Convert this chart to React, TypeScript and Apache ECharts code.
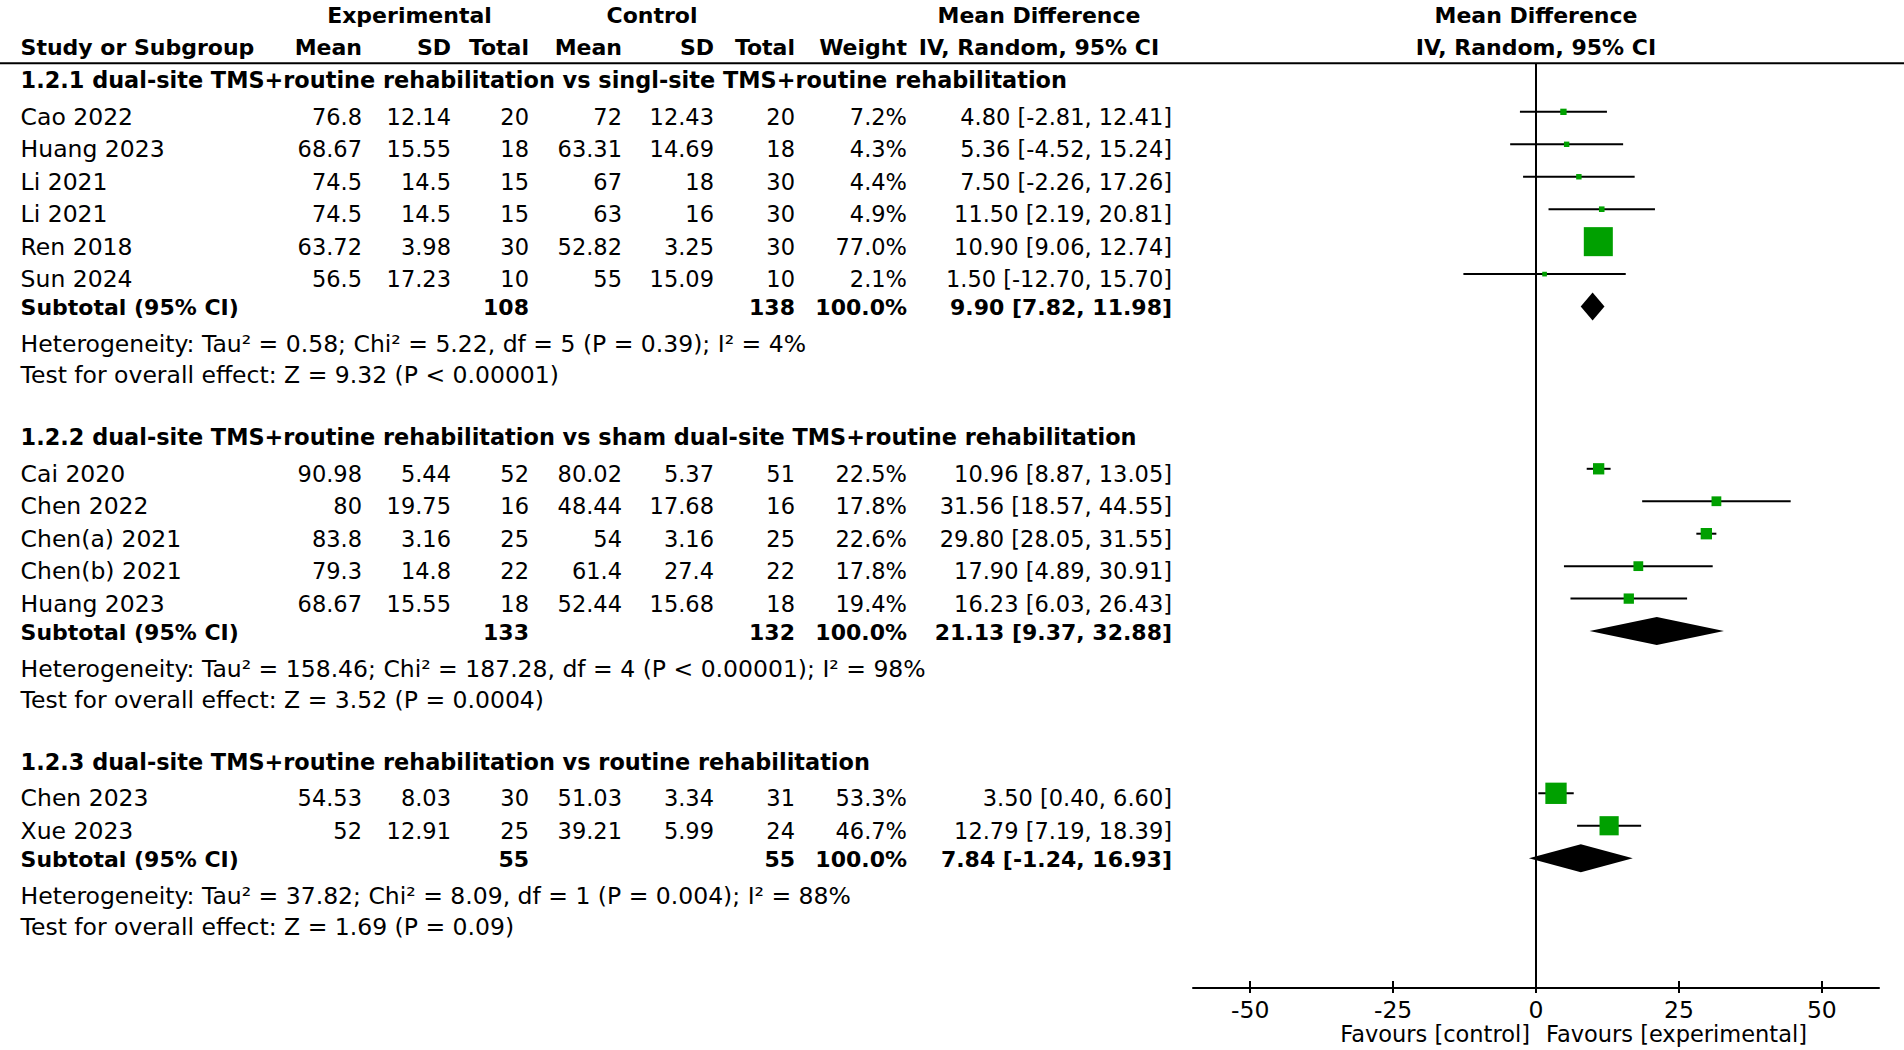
import React, { useEffect, useRef } from "react";
import * as echarts from "echarts";

// ---------- data ----------
const G1_TITLE = "1.2.1 dual-site TMS+routine rehabilitation vs singl-site TMS+routine rehabilitation";
const G1_STUDIES = ["Cao 2022", "Huang 2023", "Li 2021", "Li 2021", "Ren 2018", "Sun 2024"];
const G1_EXP_MEAN = [76.8, 68.67, 74.5, 74.5, 63.72, 56.5];
const G1_EXP_SD = [12.14, 15.55, 14.5, 14.5, 3.98, 17.23];
const G1_EXP_N = [20, 18, 15, 15, 30, 10];
const G1_CTL_MEAN = [72, 63.31, 67, 63, 52.82, 55];
const G1_CTL_SD = [12.43, 14.69, 18, 16, 3.25, 15.09];
const G1_CTL_N = [20, 18, 30, 30, 30, 10];
const G1_WEIGHT = [7.2, 4.3, 4.4, 4.9, 77.0, 2.1];
const G1_MD = [4.8, 5.36, 7.5, 11.5, 10.9, 1.5];
const G1_LO = [-2.81, -4.52, -2.26, 2.19, 9.06, -12.7];
const G1_HI = [12.41, 15.24, 17.26, 20.81, 12.74, 15.7];
const G1_SUB = [108, 138, 9.9, 7.82, 11.98]; // expTotal, ctlTotal, md, lo, hi
const G1_HET = "Heterogeneity: Tau² = 0.58; Chi² = 5.22, df = 5 (P = 0.39); I² = 4%";
const G1_TEST = "Test for overall effect: Z = 9.32 (P < 0.00001)";

const G2_TITLE = "1.2.2 dual-site TMS+routine rehabilitation vs sham dual-site TMS+routine rehabilitation";
const G2_STUDIES = ["Cai 2020", "Chen 2022", "Chen(a) 2021", "Chen(b) 2021", "Huang 2023"];
const G2_EXP_MEAN = [90.98, 80, 83.8, 79.3, 68.67];
const G2_EXP_SD = [5.44, 19.75, 3.16, 14.8, 15.55];
const G2_EXP_N = [52, 16, 25, 22, 18];
const G2_CTL_MEAN = [80.02, 48.44, 54, 61.4, 52.44];
const G2_CTL_SD = [5.37, 17.68, 3.16, 27.4, 15.68];
const G2_CTL_N = [51, 16, 25, 22, 18];
const G2_WEIGHT = [22.5, 17.8, 22.6, 17.8, 19.4];
const G2_MD = [10.96, 31.56, 29.8, 17.9, 16.23];
const G2_LO = [8.87, 18.57, 28.05, 4.89, 6.03];
const G2_HI = [13.05, 44.55, 31.55, 30.91, 26.43];
const G2_SUB = [133, 132, 21.13, 9.37, 32.88];
const G2_HET = "Heterogeneity: Tau² = 158.46; Chi² = 187.28, df = 4 (P < 0.00001); I² = 98%";
const G2_TEST = "Test for overall effect: Z = 3.52 (P = 0.0004)";

const G3_TITLE = "1.2.3 dual-site TMS+routine rehabilitation vs routine rehabilitation";
const G3_STUDIES = ["Chen 2023", "Xue 2023"];
const G3_EXP_MEAN = [54.53, 52];
const G3_EXP_SD = [8.03, 12.91];
const G3_EXP_N = [30, 25];
const G3_CTL_MEAN = [51.03, 39.21];
const G3_CTL_SD = [3.34, 5.99];
const G3_CTL_N = [31, 24];
const G3_WEIGHT = [53.3, 46.7];
const G3_MD = [3.5, 12.79];
const G3_LO = [0.4, 7.19];
const G3_HI = [6.6, 18.39];
const G3_SUB = [55, 55, 7.84, -1.24, 16.93];
const G3_HET = "Heterogeneity: Tau² = 37.82; Chi² = 8.09, df = 1 (P = 0.004); I² = 88%";
const G3_TEST = "Test for overall effect: Z = 1.69 (P = 0.09)";

const X_TICKS = [-50, -25, 0, 25, 50];
const X_MIN = -60;
const X_MAX = 60;
const LEFT_LABEL = "Favours [control]";
const RIGHT_LABEL = "Favours [experimental]";

// ---------- layout ----------
const FONT = '"DejaVu Sans", Verdana, sans-serif';
const FS_TXT = 23.5; // left-aligned regular labels
const FS_NUM = 22.5; // numeric columns
const FS_BOLD = 22;
const GREEN = "#00a000";
const Y_MIN = -2;
const Y_MAX = 28;
const GRID_TOP = 14.5;
const GRID_H = 973.5;
const PITCH = GRID_H / (Y_MAX - Y_MIN);
const rowY = (k: number) => GRID_TOP + (k - Y_MIN) * PITCH;

const COL = {
  name: 20.6,
  expMean: 362,
  expSD: 451,
  expN: 529,
  ctlMean: 622,
  ctlSD: 714,
  ctlN: 795,
  weight: 907,
  ci: 1172,
  ciCenter: 1039,
  plotCenter: 1536,
  expCenter: 409.5,
  ctlCenter: 652,
};

const fmt2 = (v: number) => v.toFixed(2);
const ciText = (m: number, l: number, h: number) => `${fmt2(m)} [${fmt2(l)}, ${fmt2(h)}]`;

function buildGroups() {
  return [
    { title: G1_TITLE, studies: G1_STUDIES, em: G1_EXP_MEAN, es: G1_EXP_SD, en: G1_EXP_N, cm: G1_CTL_MEAN, cs: G1_CTL_SD, cn: G1_CTL_N, w: G1_WEIGHT, md: G1_MD, lo: G1_LO, hi: G1_HI, sub: G1_SUB, het: G1_HET, test: G1_TEST },
    { title: G2_TITLE, studies: G2_STUDIES, em: G2_EXP_MEAN, es: G2_EXP_SD, en: G2_EXP_N, cm: G2_CTL_MEAN, cs: G2_CTL_SD, cn: G2_CTL_N, w: G2_WEIGHT, md: G2_MD, lo: G2_LO, hi: G2_HI, sub: G2_SUB, het: G2_HET, test: G2_TEST },
    { title: G3_TITLE, studies: G3_STUDIES, em: G3_EXP_MEAN, es: G3_EXP_SD, en: G3_EXP_N, cm: G3_CTL_MEAN, cs: G3_CTL_SD, cn: G3_CTL_N, w: G3_WEIGHT, md: G3_MD, lo: G3_LO, hi: G3_HI, sub: G3_SUB, het: G3_HET, test: G3_TEST },
  ];
}

function txt(text: string, x: number, y: number, align: string, bold = false, size?: number) {
  const fs = size ?? (bold ? FS_BOLD : FS_NUM);
  return {
    type: "text",
    silent: true,
    style: {
      text,
      x,
      y,
      font: `${bold ? "bold " : ""}${fs}px ${FONT}`,
      fill: "#000",
      align,
      verticalAlign: "middle",
      textAlign: align,
      textVerticalAlign: "middle",
    },
  };
}

export default function App() {
  const ref = useRef<HTMLDivElement>(null);

  useEffect(() => {
    if (!ref.current) return;
    const chart = echarts.init(ref.current, undefined, { renderer: "svg" });
    const groups = buildGroups();

    const texts: any[] = [];
    const ciData: any[] = [];
    const sqData: any[] = [];
    const dmData: any[] = [];

    // headers
    const h1 = rowY(-2) + 1;
    const h2 = rowY(-1) + 1;
    texts.push(txt("Experimental", COL.expCenter, h1, "center", true));
    texts.push(txt("Control", COL.ctlCenter, h1, "center", true));
    texts.push(txt("Mean Difference", COL.ciCenter, h1, "center", true));
    texts.push(txt("Mean Difference", COL.plotCenter, h1, "center", true));
    texts.push(txt("Study or Subgroup", COL.name, h2, "left", true));
    texts.push(txt("Mean", COL.expMean, h2, "right", true));
    texts.push(txt("SD", COL.expSD, h2, "right", true));
    texts.push(txt("Total", COL.expN, h2, "right", true));
    texts.push(txt("Mean", COL.ctlMean, h2, "right", true));
    texts.push(txt("SD", COL.ctlSD, h2, "right", true));
    texts.push(txt("Total", COL.ctlN, h2, "right", true));
    texts.push(txt("Weight", COL.weight, h2, "right", true));
    texts.push(txt("IV, Random, 95% CI", COL.ciCenter, h2, "center", true));
    texts.push(txt("IV, Random, 95% CI", COL.plotCenter, h2, "center", true));
    texts.push({
      type: "line",
      silent: true,
      shape: { x1: 0, y1: rowY(-0.5), x2: 1904, y2: rowY(-0.5) },
      style: { stroke: "#000", lineWidth: 2 },
    });

    let k = 0;
    groups.forEach((g) => {
      texts.push(txt(g.title, COL.name, rowY(k) + 1, "left", true, 22.4));
      k++;
      g.studies.forEach((s, i) => {
        const y = rowY(k) + 5;
        texts.push(txt(s, COL.name, y, "left", false, FS_TXT));
        texts.push(txt(String(g.em[i]), COL.expMean, y, "right"));
        texts.push(txt(String(g.es[i]), COL.expSD, y, "right"));
        texts.push(txt(String(g.en[i]), COL.expN, y, "right"));
        texts.push(txt(String(g.cm[i]), COL.ctlMean, y, "right"));
        texts.push(txt(String(g.cs[i]), COL.ctlSD, y, "right"));
        texts.push(txt(String(g.cn[i]), COL.ctlN, y, "right"));
        texts.push(txt(`${g.w[i].toFixed(1)}%`, COL.weight, y, "right"));
        texts.push(txt(ciText(g.md[i], g.lo[i], g.hi[i]), COL.ci, y, "right"));
        ciData.push([g.lo[i], g.hi[i], k]);
        sqData.push([g.md[i], k, g.w[i]]);
        k++;
      });
      const ys = rowY(k) + 1;
      texts.push(txt("Subtotal (95% CI)", COL.name, ys, "left", true));
      texts.push(txt(String(g.sub[0]), COL.expN, ys, "right", true));
      texts.push(txt(String(g.sub[1]), COL.ctlN, ys, "right", true));
      texts.push(txt("100.0%", COL.weight, ys, "right", true));
      texts.push(txt(ciText(g.sub[2], g.sub[3], g.sub[4]), COL.ci, ys, "right", true));
      dmData.push([g.sub[3], g.sub[2], g.sub[4], k]);
      k++;
      texts.push(txt(g.het, COL.name, rowY(k) + 5, "left", false, FS_TXT));
      k++;
      texts.push(txt(g.test, COL.name, rowY(k) + 4, "left", false, FS_TXT));
      k++;
      k++; // blank row
    });

    texts.push(txt(LEFT_LABEL, 1530, 1034, "right", false, 22.5));
    texts.push(txt(RIGHT_LABEL, 1546, 1034, "left", false, 22.5));

    const axisCommon = {
      type: "value",
      gridIndex: 0,
      min: X_MIN,
      max: X_MAX,
      position: "bottom",
      splitLine: { show: false },
    };

    const option: any = {
      animation: false,
      backgroundColor: "#fff",
      grid: [{ left: 1193, top: GRID_TOP, width: 686, height: GRID_H, containLabel: false }],
      xAxis: [
        {
          ...axisCommon,
          axisLine: { show: true, onZero: false, lineStyle: { color: "#000", width: 2 } },
          axisTick: { show: true, inside: true, length: 7, customValues: X_TICKS, lineStyle: { color: "#000", width: 2 } },
          axisLabel: {
            show: true,
            customValues: X_TICKS,
            margin: 10,
            color: "#000",
            fontSize: FS_TXT,
            fontFamily: FONT,
            formatter: (v: number) => String(v),
          },
        },
        {
          ...axisCommon,
          axisLine: { show: false, onZero: false },
          axisTick: { show: true, inside: false, length: 5, customValues: X_TICKS, lineStyle: { color: "#000", width: 2 } },
          axisLabel: { show: false },
        },
      ],
      yAxis: [{ type: "value", gridIndex: 0, min: Y_MIN, max: Y_MAX, inverse: true, show: false }],
      graphic: { elements: texts },
      series: [
        {
          type: "custom",
          name: "ci",
          xAxisIndex: 0,
          yAxisIndex: 0,
          data: ciData,
          encode: { x: [0, 1], y: 2 },
          renderItem: (params: any, api: any) => {
            const a = api.coord([api.value(0), api.value(2)]);
            const b = api.coord([api.value(1), api.value(2)]);
            return {
              type: "line",
              shape: { x1: a[0], y1: a[1], x2: b[0], y2: b[1] },
              style: { stroke: "#000", lineWidth: 2 },
            };
          },
          z: 2,
        },
        {
          type: "scatter",
          name: "md",
          xAxisIndex: 0,
          yAxisIndex: 0,
          data: sqData,
          symbol: "rect",
          symbolSize: (val: number[]) => 4 + 0.325 * val[2],
          itemStyle: { color: GREEN, opacity: 1 },
          z: 3,
          markLine: {
            silent: true,
            symbol: ["none", "none"],
            label: { show: false },
            lineStyle: { color: "#000", width: 2, type: "solid" },
            data: [[{ coord: [0, -0.5] }, { coord: [0, Y_MAX] }]],
          },
        },
        {
          type: "custom",
          name: "subtotal",
          xAxisIndex: 0,
          yAxisIndex: 0,
          data: dmData,
          encode: { x: [0, 1, 2], y: 3 },
          renderItem: (params: any, api: any) => {
            const l = api.coord([api.value(0), api.value(3)]);
            const m = api.coord([api.value(1), api.value(3)]);
            const h = api.coord([api.value(2), api.value(3)]);
            const hh = 14;
            return {
              type: "polygon",
              shape: { points: [[l[0], l[1]], [m[0], m[1] - hh], [h[0], h[1]], [m[0], m[1] + hh]] },
              style: { fill: "#000" },
            };
          },
          z: 4,
        },
      ],
    };

    chart.setOption(option);
    return () => chart.dispose();
  }, []);

  return (
    <div
      ref={ref}
      style={{ position: "fixed", left: 0, top: 0, width: "1904px", height: "1050px", background: "#fff" }}
    />
  );
}
